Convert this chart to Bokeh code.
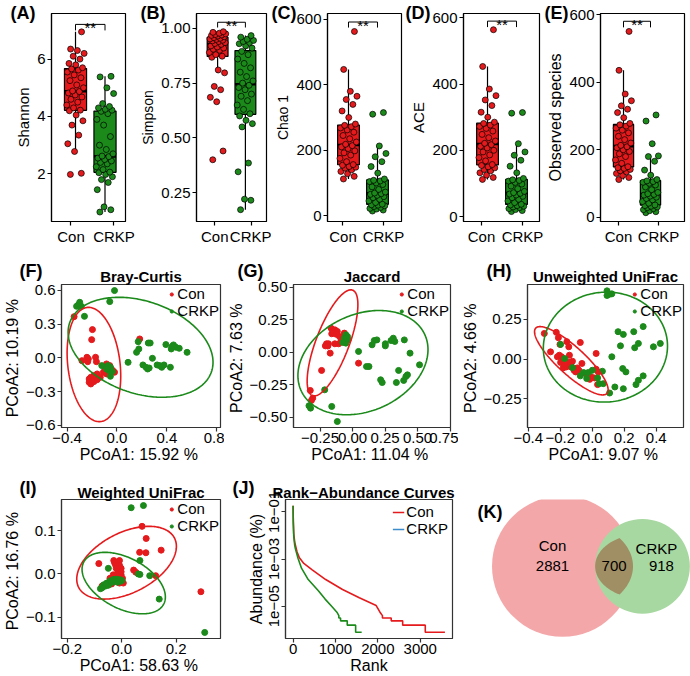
import json
import numpy as np
from bokeh.plotting import figure
from bokeh.layouts import column, row
from bokeh.models import (Range1d, FixedTicker, CustomJSTickFormatter,
                          Legend, LegendItem, Title)
from bokeh.core.properties import value
from bokeh.embed import file_html
from bokeh.resources import INLINE

FONT = "Liberation Sans"
RED = "#E41A1C"
GREEN = "#1B8A1B"
BLUE = "#3C8DCB"
FRAME2 = "#333333"
MINUS = "\u2212"

groups = ["Con", "CRKP"]

# ---------------- alpha diversity, one value per sample ----------------
shannon_con = [1.98, 2.02, 2.78, 3.05, 3.35, 3.70, 3.85, 4.05, 4.20, 4.22, 4.30, 4.40,
               4.50, 4.60, 4.68, 4.75, 4.82, 4.87, 4.89, 5.00, 5.10, 5.25, 5.35, 5.45,
               5.55, 5.62, 5.66, 5.70, 5.80, 5.85, 6.00, 6.10, 6.20, 6.30, 6.35, 6.95]
shannon_crkp = [0.67, 0.75, 0.85, 1.45, 1.70, 1.80, 1.90, 1.98, 2.04, 2.06, 2.15, 2.25,
                2.35, 2.40, 2.45, 2.50, 2.55, 2.60, 2.62, 2.70, 2.85, 3.00, 3.30, 3.70,
                3.90, 4.10, 4.18, 4.22, 4.25, 4.30, 4.35, 4.45, 4.80, 5.00, 5.38, 5.40]
simpson_con = [0.400, 0.440, 0.665, 0.685, 0.720, 0.735, 0.797, 0.810, 0.868, 0.873, 0.880, 0.890,
               0.900, 0.905, 0.910, 0.915, 0.920, 0.927, 0.931, 0.935, 0.940, 0.943, 0.946, 0.950,
               0.952, 0.955, 0.958, 0.962, 0.965, 0.968, 0.970, 0.972, 0.975, 0.978, 0.982, 0.985]
simpson_crkp = [0.172, 0.215, 0.220, 0.345, 0.385, 0.550, 0.565, 0.580, 0.600, 0.610, 0.630, 0.650,
                0.670, 0.690, 0.700, 0.720, 0.730, 0.740, 0.750, 0.760, 0.780, 0.800, 0.820, 0.840,
                0.860, 0.880, 0.895, 0.910, 0.920, 0.930, 0.935, 0.940, 0.945, 0.950, 0.960, 0.967]
chao1_con = [112, 120, 128, 135, 140, 145, 148, 150, 154, 156, 165, 175,
             185, 192, 198, 205, 210, 214, 218, 225, 235, 245, 255, 262,
             268, 272, 276, 280, 300, 320, 340, 355, 365, 380, 447, 563]
chao1_crkp = [14, 17, 20, 22, 25, 28, 30, 32, 33, 35, 40, 45,
              50, 55, 58, 62, 65, 67, 69, 72, 80, 88, 95, 100,
              104, 106, 108, 112, 130, 150, 165, 180, 190, 213, 310, 315]
ace_con = [112, 118, 125, 132, 138, 142, 147, 150, 154, 157, 168, 178,
           186, 195, 200, 207, 212, 217, 221, 228, 238, 248, 258, 266,
           272, 276, 281, 285, 300, 315, 335, 352, 365, 385, 453, 564]
ace_crkp = [15, 18, 21, 24, 27, 29, 31, 33, 35, 37, 42, 47,
            52, 57, 61, 65, 68, 70, 72, 76, 84, 92, 98, 103,
            107, 109, 111, 115, 132, 152, 170, 185, 195, 220, 312, 314]
observed_con = [112, 118, 124, 130, 135, 138, 142, 145, 147, 150, 160, 170,
                180, 188, 195, 200, 206, 209, 213, 220, 230, 240, 250, 258,
                264, 270, 274, 278, 295, 310, 320, 330, 345, 365, 435, 550]
observed_crkp = [14, 17, 20, 23, 26, 29, 31, 33, 35, 37, 42, 47,
                 52, 56, 60, 63, 66, 68, 70, 74, 82, 90, 96, 101,
                 104, 106, 108, 112, 125, 140, 166, 180, 182, 218, 285, 303]

# ---------------- PCoA coordinates (PCoA1, PCoA2) ----------------
bray_con_x = [-0.344, -0.197, -0.203, -0.241, -0.281, -0.230, -0.172, -0.165, -0.235, -0.084,
              -0.058, -0.033, -0.109, -0.159, -0.185, -0.210, -0.223, -0.197, -0.223, -0.210,
              -0.185, -0.159, -0.134, -0.084, -0.096, -0.046, -0.020, 0.182]
bray_con_y = [0.367, 0.252, 0.163, 0.006, -0.024, -0.009, 0.006, -0.033, -0.033, -0.053,
              -0.068, -0.113, -0.127, -0.142, -0.157, -0.172, -0.187, -0.201, -0.216, -0.231,
              -0.210, -0.193, -0.172, -0.142, -0.098, -0.098, -0.127, 0.169]
bray_crkp_x = [-0.311, -0.299, -0.324, -0.286, -0.261, -0.058, -0.020, -0.122, -0.071, -0.053,
               -0.063, -0.038, -0.084, -0.053, 0.089, 0.157, 0.175, 0.170, 0.208, 0.233,
               0.246, 0.258, 0.251, 0.266, 0.284, 0.322, 0.342, 0.359, 0.377, 0.392,
               0.428, 0.435, 0.453, 0.473, 0.499, 0.443, 0.562]
bray_crkp_y = [0.471, 0.495, 0.459, 0.459, 0.370, 0.501, 0.599, -0.068, -0.068, -0.083,
               -0.113, -0.121, -0.098, -0.163, -0.039, 0.050, 0.080, 0.145, -0.062, -0.083,
               -0.098, -0.089, 0.133, 0.133, -0.003, -0.062, -0.068, -0.083, -0.062, 0.119,
               -0.083, 0.080, 0.116, 0.095, 0.086, 0.104, 0.050]

jac_con_x = [-0.165, -0.148, -0.136, -0.117, -0.160, -0.100, -0.063, -0.051, -0.087, -0.200,
             -0.185, -0.209, -0.136, -0.172, -0.238, 0.046, -0.325, -0.306, -0.316, -0.107,
             -0.063, -0.150, -0.125, -0.190]
jac_con_y = [0.187, 0.162, 0.174, 0.162, 0.144, 0.123, 0.149, 0.118, 0.097, 0.067,
             0.067, 0.051, 0.067, -0.005, -0.138, -0.082, -0.292, -0.351, -0.369, 0.067,
             0.085, 0.150, 0.140, 0.050]
jac_crkp_x = [-0.051, -0.039, -0.063, -0.034, -0.051, -0.075, -0.044, 0.046, 0.107, 0.126,
              0.150, 0.167, 0.187, 0.252, 0.252, 0.296, 0.313, 0.325, 0.398, 0.442,
              0.515, 0.354, 0.216, 0.228, 0.337, 0.393, 0.422, 0.410, -0.214, -0.160,
              -0.335, -0.323, -0.117]
jac_crkp_y = [0.136, 0.123, 0.110, 0.097, 0.072, 0.077, 0.110, 0.008, -0.108, -0.108,
              0.059, 0.092, 0.097, 0.067, 0.051, 0.092, 0.110, 0.085, 0.097, -0.005,
              -0.095, -0.138, -0.210, -0.231, -0.231, -0.215, -0.172, -0.185, -0.287, -0.415,
              -0.410, -0.428, -0.531]

unw_con_x = [-0.300, -0.261, -0.225, -0.212, -0.202, -0.206, -0.218, -0.192, -0.182, -0.198,
             -0.159, -0.147, -0.143, -0.153, -0.133, -0.124, -0.114, -0.163, -0.182, -0.094,
             -0.075, -0.065, -0.041, -0.022, -0.006, 0.014, 0.024, 0.037, 0.024, 0.033,
             -0.016, -0.084, -0.104, -0.133, -0.173]
unw_con_y = [0.162, 0.046, 0.169, 0.135, 0.093, 0.025, 0.015, 0.015, -0.006, -0.021,
             0.110, 0.078, 0.025, -0.017, -0.027, -0.013, -0.070, -0.049, -0.055, -0.055,
             0.105, -0.027, -0.091, -0.105, -0.112, -0.118, 0.036, -0.080, -0.063, -0.160,
             -0.127, -0.070, -0.080, -0.049, -0.027]
unw_crkp_x = [0.092, 0.108, 0.122, 0.092, 0.161, 0.194, 0.259, 0.318, 0.288, 0.265,
              0.176, 0.122, 0.190, 0.210, 0.141, 0.194, 0.273, 0.288, 0.318, 0.382,
              0.425, 0.108, -0.198, -0.173, -0.124, -0.055, -0.025, 0.000, 0.033, 0.063,
              0.043, 0.069, -0.035, -0.075]
unw_crkp_y = [0.430, 0.409, 0.411, 0.401, 0.173, 0.156, 0.173, 0.205, 0.099, 0.072,
              0.084, 0.015, -0.059, -0.080, -0.175, -0.186, -0.160, -0.133, -0.105, 0.078,
              0.099, -0.213, 0.093, 0.004, -0.053, -0.084, -0.084, -0.070, -0.118, -0.076,
              -0.154, -0.154, -0.122, -0.105]

wu_con_x = [-0.084, -0.029, -0.026, -0.022, -0.008, -0.008, -0.002, -0.020, -0.014, -0.010,
            -0.002, 0.003, -0.017, -0.037, -0.049, -0.060, -0.072, 0.006, -0.002, 0.044,
            0.052, 0.066, 0.089, 0.090, 0.075, 0.145, 0.125, 0.291, -0.002, -0.031,
            -0.043, -0.008]
wu_con_y = [0.024, 0.031, 0.026, 0.020, 0.031, 0.020, 0.013, 0.013, 0.007, -0.001,
            -0.002, -0.010, -0.017, -0.023, -0.025, -0.026, -0.028, -0.021, 0.005, 0.009,
            0.004, 0.050, 0.049, 0.082, 0.110, 0.055, -0.004, -0.041, -0.013, -0.002,
            -0.010, -0.021]
wu_crkp_x = [0.035, 0.080, 0.067, -0.049, 0.061, 0.067, 0.103, 0.138, 0.305, -0.066,
             -0.055, -0.043, -0.031, -0.020, -0.008, -0.068, -0.060, -0.049, -0.041, -0.029,
             -0.016, -0.005, 0.001, -0.072, -0.055, -0.078, -0.037]
wu_crkp_y = [0.153, 0.158, 0.031, 0.013, 0.000, -0.001, -0.004, -0.058, -0.135, -0.025,
             -0.021, -0.016, -0.013, -0.012, -0.013, -0.028, -0.028, -0.026, -0.021, -0.017,
             -0.019, -0.017, -0.015, -0.032, -0.024, -0.034, -0.019]

# group ellipses: centre x, centre y, half-extent x, half-extent y, correlation
bray_ell_con = [-0.185, -0.058, 0.215, 0.508, -0.20]
bray_ell_crkp = [0.189, 0.095, 0.581, 0.444, -0.30]
jac_ell_con = [-0.154, 0.074, 0.195, 0.408, 0.72]
jac_ell_crkp = [0.080, -0.078, 0.500, 0.401, 0.25]
unw_ell_con = [-0.131, -0.010, 0.230, 0.215, -0.85]
unw_ell_crkp = [0.082, 0.076, 0.388, 0.346, 0.02]
wu_ell_con = [0.018, 0.026, 0.183, 0.084, 0.45]
wu_ell_crkp = [0.0075, -0.021, 0.153, 0.071, -0.45]

# ---------------- rank-abundance curves (rank, abundance in %) ----------------
rank_con = [1, 6, 16, 40, 95, 150, 254, 452, 770, 1167, 1563, 1960, 2050, 2108, 2108,
            2315, 2315, 2585, 2585, 3118, 3118, 3581]
abund_con = [0.18, 0.04, 0.012, 5.1e-3, 2.0e-3, 1.12e-3, 6.5e-4, 3.5e-4, 1.35e-4, 5.1e-5,
             2.3e-5, 1.07e-5, 5.6e-6, 4.0e-6, 3.16e-6, 3.16e-6, 2.4e-6, 2.4e-6, 1.58e-6,
             1.58e-6, 7.94e-7, 7.94e-7]
rank_crkp = [1, 6, 16, 40, 56, 119, 199, 358, 597, 756, 915, 1034, 1080, 1080, 1120, 1120,
             1278, 1278, 1476, 1476, 1618]
abund_crkp = [0.18, 0.035, 9.5e-3, 3.7e-3, 2.7e-3, 1.05e-3, 4.1e-4, 1.35e-4, 4.5e-5, 2.0e-5,
              9.8e-6, 5.6e-6, 4.0e-6, 3.16e-6, 3.16e-6, 2.4e-6, 2.4e-6, 1.58e-6, 1.58e-6,
              7.94e-7, 7.94e-7]

# ---------------- shared / unique OTUs ----------------
venn_con_only = 2881
venn_shared = 700
venn_crkp_only = 918

# ---------------- layout constants ----------------
ROW1_H, ROW1_TOP, ROW1_FRAME = 250, 13, 208
ROW2_H, ROW2_TOP, ROW2_FRAME = 222, 34, 143
ROW3_H, ROW3_TOP, ROW3_FRAME = 204, 27, 143
BOX_W = 0.75
JITTER = 0.6


def num_fmt(digits):
    return CustomJSTickFormatter(
        code="return tick.toFixed(%d).replace('-', '%s');" % (digits, MINUS))


def group_fmt():
    return CustomJSTickFormatter(
        code="return tick < 1.5 ? %s : %s;" % (json.dumps(groups[0]), json.dumps(groups[1])))


def base_fig(width, height, lb, rb, tb, bb, xr, yr, frame_color="black",
             tick_size="15px", label_size="15px", **kw):
    p = figure(width=width, height=height, x_range=Range1d(*xr), y_range=Range1d(*yr),
               min_border_left=lb, min_border_right=rb, min_border_top=tb,
               min_border_bottom=bb, output_backend="svg", toolbar_location=None, **kw)
    p.grid.visible = False
    p.background_fill_color = "white"
    p.border_fill_color = "white"
    p.outline_line_color = frame_color
    p.outline_line_width = 1.2
    p.outline_line_alpha = 1.0
    for ax in list(p.xaxis) + list(p.yaxis):
        ax.axis_line_color = frame_color
        ax.axis_line_width = 1.2
        ax.major_tick_line_color = frame_color
        ax.major_tick_line_width = 1.2
        ax.major_tick_out = 4
        ax.major_tick_in = 0
        ax.minor_tick_line_color = None
        ax.major_label_text_font = FONT
        ax.major_label_text_font_size = tick_size
        ax.major_label_text_color = "black"
        ax.major_label_standoff = 2
        ax.axis_label_text_font = FONT
        ax.axis_label_text_font_size = label_size
        ax.axis_label_text_font_style = "normal"
        ax.axis_label_text_color = "black"
        ax.axis_label_standoff = 2
    return p


def title_tag(p, text, offset, standoff):
    """Panel letter drawn as the plot title, pulled left of and down onto the frame."""
    p.title.text = text
    p.title.align = "left"
    p.title.offset = offset
    p.title.standoff = standoff
    p.title.text_font = FONT
    p.title.text_font_size = "18px"
    p.title.text_font_style = "bold"
    p.title.text_color = "black"


def panel_heading(p, text, standoff, offset=None):
    """Bold panel heading stacked between the frame and the panel letter."""
    t = Title(text=text, vertical_align="top", standoff=standoff, text_font=FONT,
              text_font_size="15px", text_font_style="bold", text_color="black")
    if offset is None:
        t.align = "center"
    else:
        t.align = "left"
        t.offset = offset
    p.add_layout(t, "above")


def box_panel(con, crkp, width, lb, rb, xr, yr, label_at, yticks, ydigits, ylabel,
              ylabel_size, sig_top, sig_tip, tag, tag_offset):
    bb = ROW1_H - ROW1_TOP - ROW1_FRAME
    p = base_fig(width, ROW1_H, lb, rb, ROW1_TOP, bb, xr, yr,
                 tick_size="15px", label_size=ylabel_size)
    xa, ya = p.xaxis[0], p.yaxis[0]
    xa.ticker = FixedTicker(ticks=label_at)
    xa.formatter = group_fmt()
    ya.ticker = FixedTicker(ticks=yticks)
    ya.formatter = num_fmt(ydigits)
    ya.axis_label = ylabel
    for pos, vals, col in ((1, con, RED), (2, crkp, GREEN)):
        v = np.asarray(vals, dtype=float)
        q1, med, q3 = np.percentile(v, [25, 50, 75])
        iqr = q3 - q1
        lo = v[v >= q1 - 1.5 * iqr].min()
        hi = v[v <= q3 + 1.5 * iqr].max()
        p.segment(x0=[pos, pos], y0=[q3, q1], x1=[pos, pos], y1=[hi, lo],
                  line_color="black", line_width=1.2)
        p.vbar(x=[pos], width=BOX_W, bottom=[q1], top=[q3], fill_color=col,
               line_color="black", line_width=1.2)
        p.segment(x0=[pos - BOX_W / 2], x1=[pos + BOX_W / 2], y0=[med], y1=[med],
                  line_color="black", line_width=2.6)
        jit = ((np.arange(len(v)) * 0.618034 + 0.21) % 1.0 - 0.5) * JITTER
        p.scatter(x=pos + jit, y=v, size=6, fill_color=col, line_color="black",
                  line_width=0.7)
    p.line(x=[1, 1, 2, 2], y=[sig_tip, sig_top, sig_top, sig_tip],
           line_color="black", line_width=1)
    p.text(x=[1.5], y=[sig_top], text=["**"], text_font=value(FONT),
           text_font_size=value("15px"), text_align="center",
           text_baseline="alphabetic", y_offset=3, text_color="black")
    title_tag(p, tag, tag_offset, -18)
    return p


def ellipse_xy(params):
    cx, cy, w, h, rho = params
    t = np.linspace(0, 2 * np.pi, 240)
    return (cx + w * np.cos(t),
            cy + h * (rho * np.cos(t) + np.sqrt(1 - rho ** 2) * np.sin(t)))


def style_legend(legend, glyph_w, glyph_h, margin):
    legend.location = "top_right"
    legend.background_fill_alpha = 0
    legend.border_line_color = None
    legend.label_text_font = FONT
    legend.label_text_font_size = "15px"
    legend.label_text_color = "black"
    legend.glyph_width = glyph_w
    legend.glyph_height = glyph_h
    legend.label_height = glyph_h
    legend.label_standoff = 2
    legend.padding = 0
    legend.spacing = 0
    legend.margin = margin


def pcoa_panel(width, height, lb, rb, tb, frame_h, xr, yr, xticks, xdig, yticks, ydig,
               con_x, con_y, crkp_x, crkp_y, ell_con, ell_crkp, title, xlabel, ylabel,
               tag, tag_x, head_standoff):
    bb = height - tb - frame_h
    p = base_fig(width, height, lb, rb, tb, bb, xr, yr, frame_color=FRAME2,
                 tick_size="15px", label_size="16px")
    xa, ya = p.xaxis[0], p.yaxis[0]
    xa.ticker = FixedTicker(ticks=xticks)
    xa.formatter = num_fmt(xdig)
    ya.ticker = FixedTicker(ticks=yticks)
    ya.formatter = num_fmt(ydig)
    xa.axis_label = xlabel
    ya.axis_label = ylabel
    xa.major_label_standoff = 1
    xa.axis_label_standoff = 0
    r_con = p.scatter(con_x, con_y, size=6, color=RED)
    r_crkp = p.scatter(crkp_x, crkp_y, size=6, color=GREEN)
    for params, col in ((ell_con, RED), (ell_crkp, GREEN)):
        ex, ey = ellipse_xy(params)
        p.line(ex, ey, line_color=col, line_width=1.6)
    legend = Legend(items=[LegendItem(label=groups[0], renderers=[r_con]),
                           LegendItem(label=groups[1], renderers=[r_crkp])])
    style_legend(legend, 8, 16, 1)
    p.add_layout(legend)
    panel_heading(p, title, head_standoff)
    title_tag(p, tag, tag_x - lb, -22)
    return p


# ---------------- row 1: alpha diversity boxplots ----------------
pA = box_panel(shannon_con, shannon_crkp, 137, 51, 12, (0.186, 2.695), (0.34, 7.59),
               [0.847, 2.305], [2, 4, 6], 0, "Shannon", "15px", 7.21, 7.0, "(A)", -41)
pB = box_panel(simpson_con, simpson_crkp, 134, 56, 5, (0.241, 2.759), (0.118, 1.068),
               [0.897, 2.207], [0.25, 0.5, 0.75, 1.0], 2, "Simpson", "14px", 1.028, 1.004,
               "(B)", -56)
pC = box_panel(chao1_con, chao1_crkp, 134, 56, 4, (0.276, 2.828), (-18, 618),
               [0.81, 2.207], [0, 200, 400, 600], 0, "Chao 1", "14px", 592, 575, "(C)", -56)
pD = box_panel(ace_con, ace_crkp, 139, 58, 5, (0.172, 2.793), (-15, 613),
               [0.793, 2.207], [0, 200, 400, 600], 0, "ACE", "15px", 590, 572, "(D)", -58)
pE = box_panel(observed_con, observed_crkp, 146, 56, 6, (0.148, 3.259), (-12, 603),
               [0.815, 2.296], [0, 200, 400, 600], 0, "Observed species", "16px", 580, 562,
               "(E)", -56)

# ---------------- row 2: PCoA ----------------
pF = pcoa_panel(224, ROW2_H, 52, 4, ROW2_TOP, ROW2_FRAME, (-0.445, 0.83), (-0.618, 0.653),
                [-0.4, 0.0, 0.4, 0.8], 1, [-0.6, -0.3, 0.0, 0.3, 0.6], 1,
                bray_con_x, bray_con_y, bray_crkp_x, bray_crkp_y, bray_ell_con, bray_ell_crkp,
                "Bray-Curtis", "PCoA1:  15.92 %", "PCoA2:  10.19 %", "(F)", 10, -4)
pG = pcoa_panel(234, ROW2_H, 60, 8, ROW2_TOP, ROW2_FRAME, (-0.454, 0.753), (-0.577, 0.523),
                [-0.25, 0.0, 0.25, 0.5, 0.75], 2, [-0.5, -0.25, 0.0, 0.25, 0.5], 2,
                jac_con_x, jac_con_y, jac_crkp_x, jac_crkp_y, jac_ell_con, jac_ell_crkp,
                "Jaccard", "PCoA1:  11.04 %", "PCoA2:  7.63 %", "(G)", 4, -4)
pH = pcoa_panel(232, ROW2_H, 60, 7, ROW2_TOP, ROW2_FRAME, (-0.405, 0.57), (-0.43, 0.47),
                [-0.4, -0.2, 0.0, 0.2, 0.4], 1, [-0.25, 0.0, 0.25], 2,
                unw_con_x, unw_con_y, unw_crkp_x, unw_crkp_y, unw_ell_con, unw_ell_crkp,
                "Unweighted UniFrac", "PCoA1:  9.07 %", "PCoA2:  4.66 %", "(H)", 19, -4)

# ---------------- row 3: weighted UniFrac, rank-abundance, Venn ----------------
pI = pcoa_panel(224, ROW3_H, 52, 4, ROW3_TOP, ROW3_FRAME, (-0.221, 0.363), (-0.149, 0.172),
                [-0.2, 0.0, 0.2], 1, [-0.1, 0.0, 0.1], 1,
                wu_con_x, wu_con_y, wu_crkp_x, wu_crkp_y, wu_ell_con, wu_ell_crkp,
                "Weighted UniFrac", "PCoA1:  58.63 %", "PCoA2:  16.76 %", "(I)", 10, -6)

# rank-abundance, axis limits padded by 5 % like the source plot
r_max = max(max(rank_con), max(rank_crkp))
x_pad = 0.05 * (r_max - 1)
lo_log = np.log10(min(min(abund_con), min(abund_crkp)))
hi_log = np.log10(max(max(abund_con), max(abund_crkp)))
y_pad = 0.05 * (hi_log - lo_log)
bbJ = ROW3_H - ROW3_TOP - ROW3_FRAME
pJ = base_fig(234, ROW3_H, 61, 6, ROW3_TOP, bbJ, (1 - x_pad, r_max + x_pad),
              (10 ** (lo_log - y_pad), 10 ** (hi_log + y_pad)), frame_color=FRAME2,
              tick_size="15px", label_size="16px", y_axis_type="log")
pJ.xaxis[0].ticker = FixedTicker(ticks=[0, 1000, 2000, 3000])
pJ.xaxis[0].formatter = num_fmt(0)
pJ.xaxis[0].axis_label = "Rank"
pJ.xaxis[0].major_label_standoff = 1
pJ.xaxis[0].axis_label_standoff = 0
pJ.yaxis[0].ticker = FixedTicker(ticks=[1e-5, 1e-3, 1e-1])
pJ.yaxis[0].formatter = CustomJSTickFormatter(code=(
    "const e = Math.round(Math.log10(tick));"
    "return '1e' + (e < 0 ? '%s' : '+') + String(Math.abs(e)).padStart(2, '0');" % MINUS))
pJ.yaxis[0].major_label_orientation = "parallel"
pJ.yaxis[0].axis_label = "Abundance (%)"
r_con_line = pJ.line(rank_con, abund_con, line_color=RED, line_width=1.6)
pJ.line(rank_crkp, abund_crkp, line_color=GREEN, line_width=1.6)
# the CRKP legend key is blue; its renderer holds a single point, so only the key shows
r_key = pJ.line(rank_crkp[:1], abund_crkp[:1], line_color=BLUE, line_width=1.6)
legJ = Legend(items=[LegendItem(label=groups[0], renderers=[r_con_line]),
                     LegendItem(label=groups[1], renderers=[r_key])])
style_legend(legJ, 12, 16, 4)
pJ.add_layout(legJ)
panel_heading(pJ, "Rank\u2212Abundance Curves", -6, offset=-13)
title_tag(pJ, "(J)", 8 - 61, -22)

# Venn diagram: circle areas proportional to the OTU counts of each group
VENN_SCALE = 1.178
VENN_GAP = 80.0
total_con = venn_con_only + venn_shared
total_crkp = venn_crkp_only + venn_shared
r1 = VENN_SCALE * np.sqrt(total_con)
r2 = VENN_SCALE * np.sqrt(total_crkp)
c1x, cy = 104.0, 106.0
c2x = c1x + VENN_GAP
pK = figure(width=232, height=ROW3_H, x_range=Range1d(0, 232), y_range=Range1d(0, ROW3_H),
            x_axis_location=None, y_axis_location=None, min_border=0,
            output_backend="svg", toolbar_location=None)
pK.grid.visible = False
pK.outline_line_color = None
pK.circle(x=[c1x], y=[cy], radius=r1, fill_color="#F4A7A9", line_color=None)
pK.circle(x=[c2x], y=[cy], radius=r2, fill_color="#A8D8A1", line_color=None)
a = (VENN_GAP ** 2 + r1 ** 2 - r2 ** 2) / (2 * VENN_GAP)
hh = np.sqrt(r1 ** 2 - a ** 2)
al1 = np.arctan2(hh, a)
al2 = np.arctan2(hh, VENN_GAP - a)
t1 = np.linspace(-al1, al1, 80)
t2 = np.linspace(np.pi - al2, np.pi + al2, 80)
lens_x = np.concatenate([c1x + r1 * np.cos(t1), c2x + r2 * np.cos(t2)])
lens_y = np.concatenate([cy + r1 * np.sin(t1), cy + r2 * np.sin(t2)])
pK.patch(lens_x, lens_y, fill_color="#A08F64", line_color=None)
lens_mid = ((c2x - r2) + (c1x + r1)) / 2
crkp_mid = ((c1x + r1) + (c2x + r2)) / 2
pK.text(x=[c1x - 10, c1x - 10, lens_mid, crkp_mid, crkp_mid - 5],
        y=[cy + 30, cy, cy, cy, cy + 26],
        text=[groups[0], str(venn_con_only), str(venn_shared), str(venn_crkp_only), groups[1]],
        text_font=value(FONT), text_font_size=value("15px"), text_color="black",
        text_align="center", text_baseline="middle")
pK.text(x=[19], y=[ROW3_H - 18], text=["(K)"], text_font=value(FONT),
        text_font_size=value("18px"), text_font_style="bold", text_color="black",
        text_align="left", text_baseline="middle")

layout = column(row(pA, pB, pC, pD, pE), row(pF, pG, pH), row(pI, pJ, pK))

with open("out.html", "w", encoding="utf-8") as f:
    f.write(file_html(layout, INLINE, title="Microbiome diversity"))
